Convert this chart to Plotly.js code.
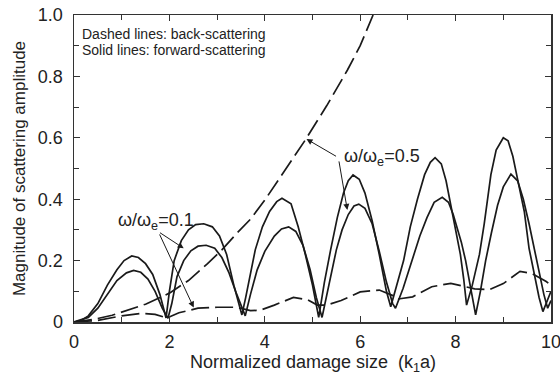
<!DOCTYPE html>
<html><head><meta charset="utf-8">
<script src="https://cdn.plot.ly/plotly-3.0.1.min.js"></script>
<style>html,body{margin:0;padding:0;background:#fff}#plot{width:560px;height:381px}</style>
</head><body><div id="plot"></div>
<script>
// Forward-scattering (solid), higher curve
const fwdA_x = [0,0.15,0.3,0.5,0.7,0.9,1.05,1.21,1.35,1.5,1.65,1.8,1.93,
  2.0,2.1,2.25,2.4,2.55,2.72,2.9,3.05,3.2,3.35,3.52,
  3.6,3.7,3.8,3.95,4.1,4.25,4.36,4.55,4.7,4.85,5.0,5.13,
  5.25,5.38,5.52,5.65,5.75,5.85,5.98,6.1,6.25,6.4,6.55,6.64,
  6.75,6.91,7.05,7.2,7.35,7.47,7.57,7.7,7.8,7.9,8.0,8.1,8.17,8.23,
  8.35,8.5,8.6,8.74,8.85,9.0,9.1,9.2,9.32,9.44,9.54,9.65,9.75,9.83,9.92,10];
const fwdA_y = [0,0.005,0.02,0.06,0.12,0.17,0.2,0.215,0.21,0.19,0.155,0.09,0.013,
  0.1,0.2,0.265,0.3,0.317,0.32,0.31,0.28,0.22,0.12,0.023,
  0.08,0.16,0.235,0.31,0.36,0.392,0.403,0.385,0.31,0.22,0.12,0.015,
  0.13,0.235,0.34,0.42,0.46,0.479,0.465,0.42,0.33,0.22,0.1,0.05,
  0.11,0.2,0.31,0.4,0.48,0.52,0.535,0.515,0.46,0.38,0.3,0.22,0.14,0.055,
  0.12,0.22,0.32,0.48,0.56,0.6,0.59,0.54,0.45,0.36,0.24,0.15,0.08,0.034,0.07,0.1];
// Forward-scattering (solid), lower curve
const fwdB_x = [0,0.3,0.5,0.7,0.9,1.1,1.25,1.4,1.55,1.7,1.85,1.97,
  2.05,2.16,2.3,2.45,2.6,2.77,2.95,3.1,3.25,3.4,3.59,
  3.7,3.84,4.0,4.2,4.35,4.5,4.65,4.8,4.95,5.08,5.2,
  5.3,5.4,5.5,5.62,5.75,5.87,5.97,6.1,6.25,6.4,6.55,6.68,6.74,
  6.9,7.09,7.25,7.4,7.55,7.72,7.85,7.95,8.05,8.12,8.21,8.32,8.42,
  8.52,8.63,8.75,8.88,9.0,9.16,9.3,9.42,9.54,9.65,9.75,9.85,9.93,10];
const fwdB_y = [0,0.015,0.045,0.09,0.135,0.16,0.168,0.162,0.14,0.1,0.045,0.012,
  0.06,0.148,0.2,0.232,0.247,0.25,0.24,0.21,0.16,0.095,0.02,
  0.09,0.17,0.23,0.28,0.303,0.31,0.295,0.25,0.17,0.08,0.015,
  0.09,0.17,0.235,0.3,0.35,0.378,0.384,0.37,0.32,0.23,0.13,0.06,0.045,
  0.11,0.2,0.28,0.34,0.39,0.406,0.39,0.35,0.3,0.26,0.2,0.1,0.023,
  0.1,0.2,0.29,0.38,0.44,0.482,0.46,0.4,0.32,0.235,0.16,0.09,0.045,0.07];
// Back-scattering (dashed), omega/omega_e = 0.5
const back05_x = [0,0.4,0.8,1.1,1.5,2.0,2.4,2.8,3.1,3.42,3.7,4.0,4.3,4.61,4.85,5.3,5.73,6.0,6.27];
const back05_y = [0,0.008,0.022,0.037,0.058,0.094,0.135,0.19,0.235,0.29,0.335,0.397,0.465,0.538,0.593,0.705,0.82,0.9,1.0];
// Back-scattering (dashed), omega/omega_e = 0.1
const back01_x = [0,0.5,1.0,1.4,1.7,1.95,2.2,2.6,3.0,3.4,3.7,3.9,4.2,4.6,4.9,5.1,5.3,5.6,6.0,6.4,6.7,6.8,7.1,7.5,7.9,8.2,8.4,8.7,9.0,9.35,9.6,9.9,10];
const back01_y = [0,0.005,0.02,0.028,0.025,0.013,0.03,0.045,0.048,0.048,0.037,0.038,0.055,0.08,0.072,0.055,0.055,0.07,0.098,0.104,0.085,0.075,0.082,0.115,0.126,0.115,0.108,0.105,0.125,0.165,0.158,0.132,0.12];

const xTicks = [0,2,4,6,8,10];
const yTicks = [0,0.2,0.4,0.6,0.8,1.0];
const yTickText = ['0','0.2','0.4','0.6','0.8','1.0'];
const xTitle = 'Normalized damage size  (k<sub>1</sub>a)';
const yTitle = 'Magnitude of scattering amplitude';

const lineCol = '#1a1a1a';
const traces = [
  {x: fwdA_x, y: fwdA_y, mode:'lines', line:{color:lineCol, width:1.7}},
  {x: fwdB_x, y: fwdB_y, mode:'lines', line:{color:lineCol, width:1.7}},
  {x: back05_x, y: back05_y, mode:'lines', line:{color:lineCol, width:1.7, dash:'18px,6px'}},
  {x: back01_x, y: back01_y, mode:'lines', line:{color:lineCol, width:1.7, dash:'18px,6px'}}
];
const fnt = 'Liberation Sans, Arial, sans-serif';
const arrow = {showarrow:true, arrowhead:2, arrowsize:1.2, arrowwidth:1, arrowcolor:lineCol, standoff:0, axref:'x', ayref:'y', text:''};
const layout = {
  width:560, height:381,
  margin:{l:74, r:9, t:15, b:59},
  paper_bgcolor:'#fff', plot_bgcolor:'#fff',
  showlegend:false,
  font:{family:fnt, color:'#222', size:14},
  xaxis:{range:[0,10], tickvals:xTicks, ticktext:xTicks.map(String), ticks:'inside', ticklen:6, tickwidth:1,
    tickcolor:'#333', showline:true, linecolor:'#333', linewidth:1.5, mirror:'allticks', showgrid:false, zeroline:false,
    ticklabeloverflow:'allow', ticklabelstandoff:3,
    minor:{dtick:1, ticks:'inside', ticklen:5, tickcolor:'#333', showgrid:false},
    tickfont:{size:18, family:fnt}},
  yaxis:{range:[0,1], tickvals:yTicks, ticktext:yTickText, ticks:'inside', ticklen:6, tickwidth:1,
    tickcolor:'#333', showline:true, linecolor:'#333', linewidth:1.5, mirror:'allticks', showgrid:false, zeroline:false,
    ticklabelstandoff:6,
    minor:{dtick:0.1, ticks:'inside', ticklen:5, tickcolor:'#333', showgrid:false},
    tickfont:{size:18, family:fnt}, title:{text:yTitle, font:{size:17, family:fnt}, standoff:8}},
  annotations:[
    {xref:'paper', yref:'paper', x:0.502, y:-0.136, xanchor:'center', yanchor:'middle', showarrow:false,
     text:xTitle, font:{size:18, family:fnt, color:'#222'}},
    {xref:'paper', yref:'paper', x:0.0126, y:0.937, xanchor:'left', yanchor:'middle', showarrow:false,
     text:'Dashed lines: back-scattering', font:{size:14, family:fnt, color:'#222'}},
    {xref:'paper', yref:'paper', x:0.0126, y:0.885, xanchor:'left', yanchor:'middle', showarrow:false,
     text:'Solid lines: forward-scattering', font:{size:14, family:fnt, color:'#222'}},
    {x:5.61, y:0.537, xanchor:'left', yanchor:'middle', showarrow:false, text:'ω/ω<sub>e</sub>=0.5', font:{size:18, family:fnt, color:'#222'}},
    {x:0.88, y:0.329, xanchor:'left', yanchor:'middle', showarrow:false, text:'ω/ω<sub>e</sub>=0.1', font:{size:18, family:fnt, color:'#222'}},
    Object.assign({x:4.874, y:0.596, ax:5.525, ay:0.537}, arrow),
    Object.assign({x:5.73, y:0.365, ax:5.55, ay:0.528}, arrow),
    Object.assign({x:2.30, y:0.24, ax:1.771, ay:0.294}, arrow),
    Object.assign({x:2.51, y:0.047, ax:1.78, ay:0.29}, arrow)
  ]
};
Plotly.newPlot('plot', traces, layout, {displayModeBar:false, staticPlot:true});
</script></body></html>
